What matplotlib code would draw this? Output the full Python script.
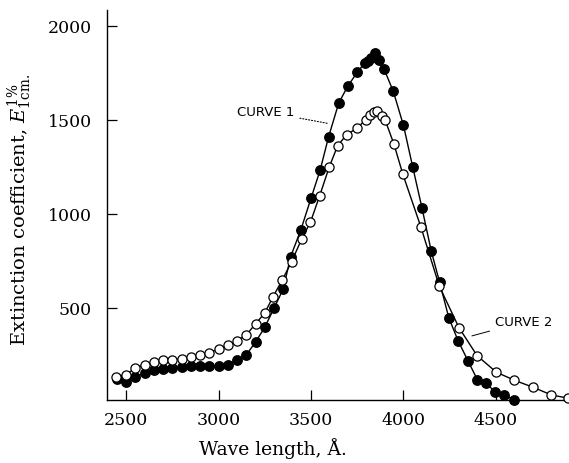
import matplotlib
matplotlib.use('Agg')
import matplotlib.pyplot as plt

# Curve 1 (filled circles)
wl1 = [2450, 2500, 2550, 2600, 2650, 2700, 2750, 2800, 2850, 2900, 2950, 3000, 3050,
       3100, 3150, 3200, 3250, 3300, 3350, 3390, 3445, 3500, 3550, 3595, 3650, 3700,
       3750, 3790, 3810, 3825, 3845, 3870, 3895, 3945, 4000, 4050, 4100, 4150, 4195,
       4245, 4295, 4350, 4400, 4445, 4495, 4545, 4600]
ext1 = [122, 108, 131, 154, 167, 176, 179, 184, 190, 193, 193, 193, 197,
        223, 250, 318, 397, 498, 601, 773, 915, 1083, 1235, 1410, 1590, 1682,
        1753, 1803, 1816, 1828, 1856, 1821, 1771, 1652, 1471, 1250, 1032, 803, 638,
        448, 326, 216, 117, 99, 55, 34, 12]

# Curve 2 (open circles)
wl2 = [2445, 2500, 2550, 2600, 2650, 2700, 2750, 2800, 2850, 2900, 2950, 3000, 3050,
       3100, 3150, 3200, 3250, 3295, 3345, 3395, 3450, 3497, 3547, 3598, 3644, 3693,
       3747, 3797, 3819, 3841, 3858, 3882, 3900, 3949, 3996, 4094, 4194, 4300, 4398,
       4502, 4600, 4700, 4800, 4888]
ext2 = [135, 144, 181, 198, 214, 225, 225, 229, 241, 250, 261, 282, 300,
        326, 356, 415, 473, 560, 649, 746, 867, 956, 1097, 1248, 1363, 1422,
        1455, 1502, 1527, 1544, 1549, 1520, 1502, 1370, 1213, 931, 615, 395, 246,
        158, 115, 78, 37, 20]

x_ticks = [2500, 3000, 3500, 4000, 4500]
y_ticks = [500, 1000, 1500, 2000]

plt.rcParams['font.family'] = 'DejaVu Serif'
plt.rcParams['mathtext.fontset'] = 'dejavuserif'
plt.rcParams['font.size'] = 12.5

fig = plt.figure(figsize=(5.69, 4.64), dpi=100)
ax = fig.add_axes([107 / 569, 63 / 464, 462 / 569, 390 / 464])

ax.plot(wl1, ext1, '-', color='black', linewidth=1.0, marker='o', markersize=6.8,
        markerfacecolor='black', markeredgecolor='black', clip_on=False, zorder=3)
ax.plot(wl2, ext2, '-', color='black', linewidth=1.0, marker='o', markersize=6.6,
        markerfacecolor='white', markeredgecolor='black', markeredgewidth=0.9,
        clip_on=False, zorder=4)

ax.set_xlim(2397, 4895)
ax.set_ylim(10, 2085)
ax.set_xticks(x_ticks)
ax.set_yticks(y_ticks)
ax.tick_params(direction='in', length=7, width=0.9, labelsize=12.5)
ax.tick_params(axis='x', pad=8)
ax.tick_params(axis='y', pad=11)

for side in ['top', 'right']:
    ax.spines[side].set_visible(False)
for side in ['left', 'bottom']:
    ax.spines[side].set_linewidth(1.0)

ax.set_xlabel('Wave length, Å.', fontsize=13.5)
ax.xaxis.set_label_coords(0.36, -0.095)
ax.set_ylabel(r'Extinction coefficient, $E^{1\%}_{1\mathrm{cm.}}$', fontsize=14)
ax.yaxis.set_label_coords(-0.158, 0.49)

ax.annotate('CURVE 1', xy=(3590, 1482), xytext=(3100, 1543),
            fontsize=9.5, family='DejaVu Sans', va='center', ha='left',
            arrowprops=dict(arrowstyle='-', linestyle=':', linewidth=0.8,
                            color='black', shrinkA=2, shrinkB=0))
ax.annotate('CURVE 2', xy=(4370, 351), xytext=(4495, 426),
            fontsize=9.5, family='DejaVu Sans', va='center', ha='left',
            arrowprops=dict(arrowstyle='-', linewidth=0.7,
                            color='black', shrinkA=2, shrinkB=0))

fig.savefig('out.png', dpi=100)
